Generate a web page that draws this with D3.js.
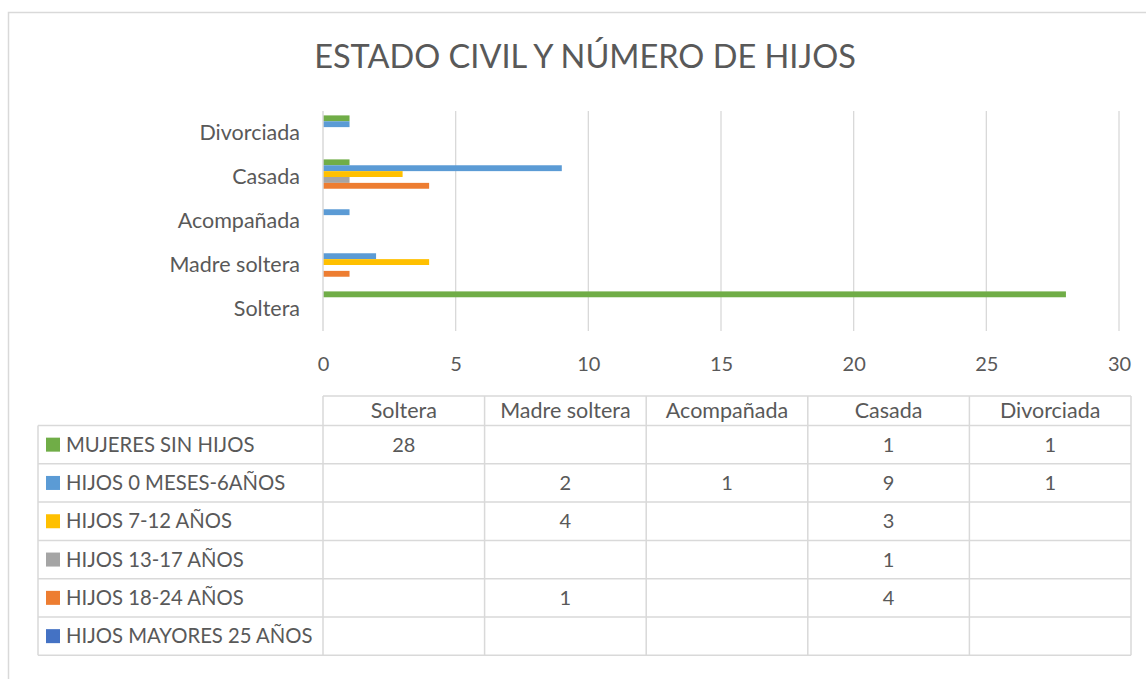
<!DOCTYPE html>
<html>
<head>
<meta charset="utf-8">
<script src="https://cdn.jsdelivr.net/npm/d3@7"></script>
<style>
  html, body { margin: 0; padding: 0; background: #fff; }
  svg text { font-family: Lato, "Open Sans", sans-serif; fill: #595959; }
</style>
</head>
<body>
<div id="chart"></div>
<script>
// data
const categories = ["Soltera", "Madre soltera", "Acompañada", "Casada", "Divorciada"];
const seriesNames = ["MUJERES SIN HIJOS", "HIJOS 0 MESES-6AÑOS", "HIJOS 7-12 AÑOS",
                     "HIJOS 13-17 AÑOS", "HIJOS 18-24 AÑOS", "HIJOS MAYORES 25 AÑOS"];
const mujeresSinHijos   = [28, null, null, 1, 1];
const hijos0a6          = [null, 2, 1, 9, 1];
const hijos7a12         = [null, 4, null, 3, null];
const hijos13a17        = [null, null, null, 1, null];
const hijos18a24        = [null, 1, null, 4, null];
const hijosMayores25    = [null, null, null, null, null];
const xTicks = [0, 5, 10, 15, 20, 25, 30];
const colors = ["#70AD47", "#5B9BD5", "#FFC000", "#A5A5A5", "#ED7D31", "#4472C4"];

const seriesValues = [mujeresSinHijos, hijos0a6, hijos7a12, hijos13a17, hijos18a24, hijosMayores25];
const series = seriesNames.map((name, i) => ({name, color: colors[i], values: seriesValues[i]}));

const W = 1146, H = 679;
const plot = {left: 323, right: 1119, top: 111, bottom: 331};
const grid = "#d9d9d9";

const svg = d3.select("#chart").append("svg")
    .attr("width", W).attr("height", H);

// chart area border (runs off the picture on right and bottom)
svg.append("rect")
    .attr("x", 8.5).attr("y", 12.5)
    .attr("width", W + 20).attr("height", H + 20)
    .attr("fill", "none").attr("stroke", grid).attr("stroke-width", 1.5);

svg.append("text")
    .attr("x", 585).attr("y", 68)
    .attr("text-anchor", "middle")
    .style("font-size", "32.5px")
    .text("ESTADO CIVIL Y NÚMERO DE HIJOS");

const x = d3.scaleLinear().domain([0, 30]).range([plot.left, plot.right]);
const y = d3.scaleBand().domain(categories).range([plot.bottom, plot.top])
    .paddingInner(0.2).paddingOuter(0.1);
const ySub = d3.scaleBand().domain(seriesNames).range([0, y.bandwidth()]);

// gridlines
svg.append("g").selectAll("line")
  .data(xTicks.filter(d => d > 0))
  .join("line")
    .attr("x1", d => x(d)).attr("x2", d => x(d))
    .attr("y1", plot.top).attr("y2", plot.bottom)
    .attr("stroke", grid).attr("stroke-width", 1.3);

// x axis labels
const xAxis = svg.append("g")
    .attr("transform", `translate(0,${plot.bottom + 40})`)
    .call(d3.axisBottom(x).tickValues(xTicks).tickSize(0).tickPadding(0));
xAxis.select(".domain").remove();
xAxis.selectAll("text")
    .attr("y", 0).attr("dy", 0)
    .style("font-size", "20px").style("fill", "#595959")
    .style("font-family", "Lato, sans-serif");

// category labels
const yAxis = svg.append("g")
    .attr("transform", `translate(${plot.left - 23},0)`)
    .call(d3.axisLeft(y).tickSize(0).tickPadding(0));
yAxis.select(".domain").remove();
yAxis.selectAll("text")
    .style("font-size", "21.5px").style("fill", "#595959")
    .style("font-family", "Lato, sans-serif");

// bars
const groups = svg.append("g").selectAll("g")
  .data(series)
  .join("g")
    .attr("fill", d => d.color);
groups.selectAll("rect")
  .data(s => s.values.map((v, i) => ({name: s.name, cat: categories[i], v}))
                     .filter(d => d.v != null))
  .join("rect")
    .attr("x", x(0))
    .attr("y", d => y(d.cat) + ySub(d.name))
    .attr("width", d => x(d.v) - x(0))
    .attr("height", ySub.bandwidth());

// vertical axis line
svg.append("line")
    .attr("x1", x(0)).attr("x2", x(0))
    .attr("y1", plot.top).attr("y2", plot.bottom)
    .attr("stroke", grid).attr("stroke-width", 1.5);

// data table
const tbl = {left: 38, colLeft: 323, right: 1131, headTop: 396, rowTop: 425.5, rowH: 38.3};
const col = d3.scaleBand().domain(categories).range([tbl.colLeft, tbl.right]);
const row = d3.scaleBand().domain(seriesNames)
    .range([tbl.rowTop, tbl.rowTop + tbl.rowH * seriesNames.length]);
const tableBottom = tbl.rowTop + tbl.rowH * seriesNames.length;
const tg = svg.append("g").attr("stroke", grid).attr("stroke-width", 1.5);

// header row lines
tg.append("line").attr("x1", tbl.colLeft).attr("x2", tbl.right)
    .attr("y1", tbl.headTop).attr("y2", tbl.headTop);
// row lines
tg.selectAll("line.row")
  .data(seriesNames.concat(["_end"]))
  .join("line").attr("class", "row")
    .attr("x1", tbl.left).attr("x2", tbl.right)
    .attr("y1", (d, i) => tbl.rowTop + i * tbl.rowH)
    .attr("y2", (d, i) => tbl.rowTop + i * tbl.rowH);
// column lines
tg.selectAll("line.col")
  .data(categories.concat(["_end"]))
  .join("line").attr("class", "col")
    .attr("x1", (d, i) => tbl.colLeft + i * col.bandwidth())
    .attr("x2", (d, i) => tbl.colLeft + i * col.bandwidth())
    .attr("y1", tbl.headTop).attr("y2", tableBottom);
tg.append("line").attr("x1", tbl.left).attr("x2", tbl.left)
    .attr("y1", tbl.rowTop).attr("y2", tableBottom);

// header labels
svg.append("g").selectAll("text")
  .data(categories)
  .join("text")
    .attr("x", d => col(d) + col.bandwidth() / 2)
    .attr("y", (tbl.headTop + tbl.rowTop) / 2)
    .attr("dy", "0.35em")
    .attr("text-anchor", "middle")
    .style("font-size", "21.5px")
    .text(d => d);

// legend keys + names
const rows = svg.append("g").selectAll("g")
  .data(series)
  .join("g")
    .attr("transform", d => `translate(0,${row(d.name) + row.bandwidth() / 2})`);
rows.append("rect")
    .attr("x", 46).attr("y", -7).attr("width", 14).attr("height", 14)
    .attr("fill", d => d.color);
rows.append("text")
    .attr("x", 66).attr("dy", "0.35em")
    .style("font-size", "20.3px")
    .text(d => d.name);
rows.selectAll("text.val")
  .data(s => s.values.map((v, i) => ({cat: categories[i], v})).filter(d => d.v != null))
  .join("text").attr("class", "val")
    .attr("x", d => col(d.cat) + col.bandwidth() / 2)
    .attr("dy", "0.35em")
    .attr("text-anchor", "middle")
    .style("font-size", "20px")
    .text(d => d.v);
</script>
</body>
</html>
